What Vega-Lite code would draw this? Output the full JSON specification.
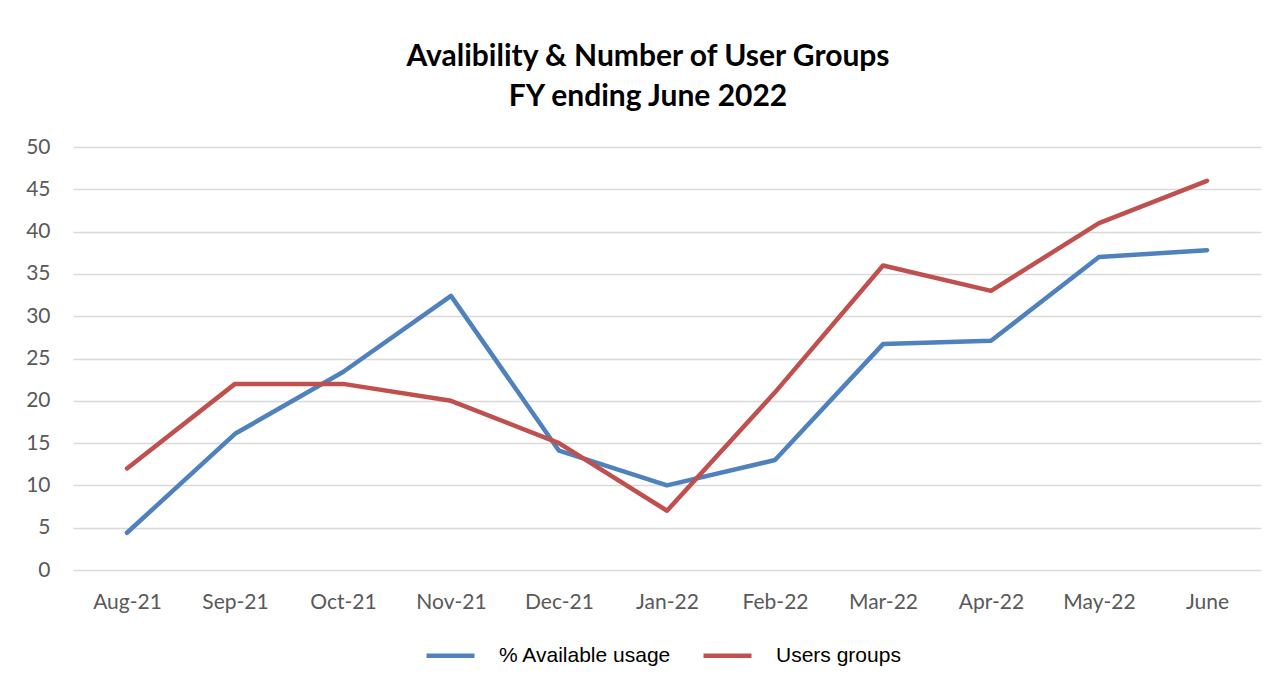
{
  "$schema": "https://vega.github.io/schema/vega-lite/v6.json",
  "width": 1188,
  "height": 423,
  "autosize": {"type": "none"},
  "padding": {"left": 73, "top": 147, "right": 17, "bottom": 114},
  "background": "white",
  "config": {
    "view": {"stroke": null},
    "font": "Lato"
  },
  "title": {
    "text": ["Avalibility & Number of User Groups", "FY ending June 2022"],
    "font": "Lato",
    "fontSize": 30,
    "fontWeight": "bold",
    "color": "#000000",
    "lineHeight": 40,
    "anchor": "middle",
    "dx": -19,
    "baseline": "alphabetic",
    "offset": 0
  },
  "data": {
    "values": [
      {"month": "Aug-21", "series": "% Available usage", "value": 4.4},
      {"month": "Sep-21", "series": "% Available usage", "value": 16.1},
      {"month": "Oct-21", "series": "% Available usage", "value": 23.4},
      {"month": "Nov-21", "series": "% Available usage", "value": 32.4},
      {"month": "Dec-21", "series": "% Available usage", "value": 14.1},
      {"month": "Jan-22", "series": "% Available usage", "value": 10.0},
      {"month": "Feb-22", "series": "% Available usage", "value": 13.0},
      {"month": "Mar-22", "series": "% Available usage", "value": 26.7},
      {"month": "Apr-22", "series": "% Available usage", "value": 27.1},
      {"month": "May-22", "series": "% Available usage", "value": 37.0},
      {"month": "June", "series": "% Available usage", "value": 37.8},
      {"month": "Aug-21", "series": "Users groups", "value": 12},
      {"month": "Sep-21", "series": "Users groups", "value": 22},
      {"month": "Oct-21", "series": "Users groups", "value": 22},
      {"month": "Nov-21", "series": "Users groups", "value": 20},
      {"month": "Dec-21", "series": "Users groups", "value": 15},
      {"month": "Jan-22", "series": "Users groups", "value": 7},
      {"month": "Feb-22", "series": "Users groups", "value": 21},
      {"month": "Mar-22", "series": "Users groups", "value": 36},
      {"month": "Apr-22", "series": "Users groups", "value": 33},
      {"month": "May-22", "series": "Users groups", "value": 41},
      {"month": "June", "series": "Users groups", "value": 46}
    ]
  },
  "mark": {"type": "line", "strokeWidth": 4.5, "strokeCap": "round", "strokeJoin": "round"},
  "encoding": {
    "x": {
      "field": "month",
      "type": "nominal",
      "sort": null,
      "scale": {"type": "point", "padding": 0.5},
      "axis": {
        "title": null,
        "labelAngle": 0,
        "labelFontSize": 21,
        "labelColor": "#595959",
        "labelPadding": 21,
        "domain": false,
        "ticks": false,
        "grid": false
      }
    },
    "y": {
      "field": "value",
      "type": "quantitative",
      "scale": {"domain": [0, 50], "nice": false},
      "axis": {
        "title": null,
        "values": [0, 5, 10, 15, 20, 25, 30, 35, 40, 45, 50],
        "labelFontSize": 21,
        "labelColor": "#595959",
        "labelPadding": 23,
        "domain": false,
        "ticks": false,
        "gridColor": "#d9d9d9",
        "gridWidth": 1.5
      }
    },
    "color": {
      "field": "series",
      "type": "nominal",
      "scale": {"domain": ["% Available usage", "Users groups"], "range": ["#4f81bd", "#c0504d"]},
      "legend": {
        "title": null,
        "orient": "none",
        "legendX": 351,
        "legendY": 482,
        "direction": "horizontal",
        "symbolType": "stroke",
        "symbolSize": 2304,
        "symbolStrokeWidth": 4.5,
        "labelFont": "Liberation Sans",
        "labelFontSize": 21,
        "labelLimit": 400,
        "labelColor": "#000000",
        "labelOffset": 22,
        "columnPadding": 22
      }
    }
  }
}
